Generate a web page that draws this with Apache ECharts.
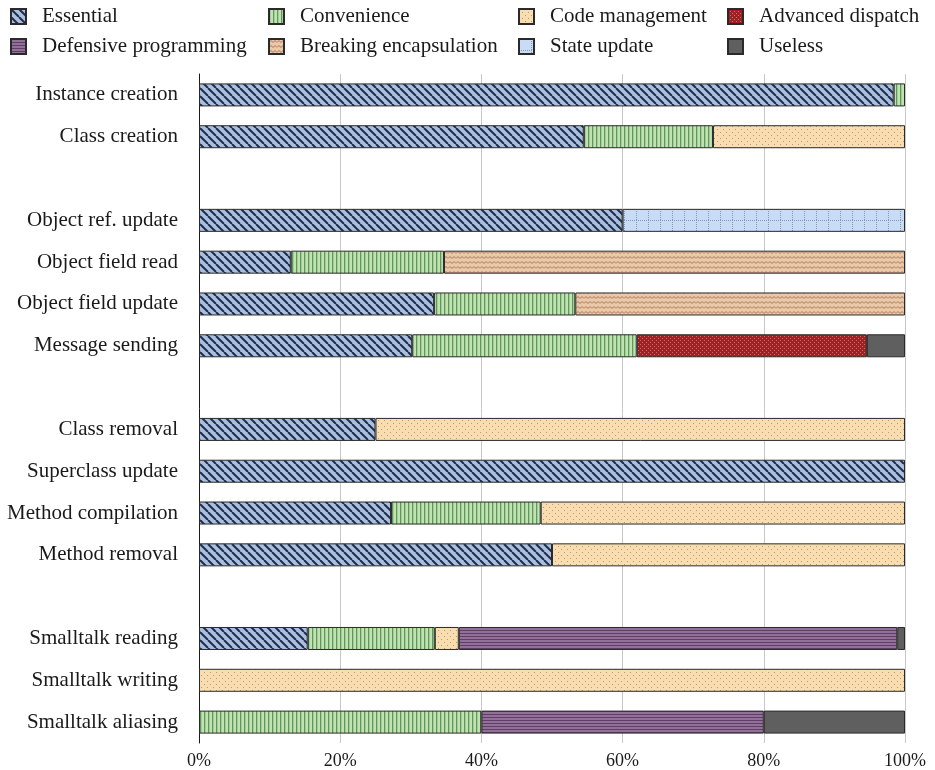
<!DOCTYPE html>
<html><head><meta charset="utf-8">
<script src="https://cdn.jsdelivr.net/npm/echarts@6/dist/echarts.min.js"></script>
<style>html,body{margin:0;padding:0;background:#fff}#c{width:935px;height:770px}</style>
</head><body><div id="c"></div>
<script>
const categories = ['Instance creation','Class creation',' ','Object ref. update','Object field read','Object field update','Message sending','  ','Class removal','Superclass update','Method compilation','Method removal','   ','Smalltalk reading','Smalltalk writing','Smalltalk aliasing'];
const essential   = [98.4, 54.5, null, 60, 13.0, 33.3, 30.2, null, 25, 100, 27.2, 50, null, 15.4, 0, 0];
const convenience = [1.6, 18.3, null, 0, 21.7, 20.0, 31.8, null, 0, 0, 21.2, 0, null, 18.0, 0, 40];
const codeMgmt    = [0, 27.2, null, 0, 0, 0, 0, null, 75, 0, 51.6, 50, null, 3.4, 100, 0];
const breaking    = [0, 0, null, 0, 65.3, 46.7, 0, null, 0, 0, 0, 0, null, 0, 0, 0];
const stateUpdate = [0, 0, null, 40, 0, 0, 0, null, 0, 0, 0, 0, null, 0, 0, 0];
const advDispatch = [0, 0, null, 0, 0, 0, 32.6, null, 0, 0, 0, 0, null, 0, 0, 0];
const defensive   = [0, 0, null, 0, 0, 0, 0, null, 0, 0, 0, 0, null, 62.1, 0, 40];
const useless     = [0, 0, null, 0, 0, 0, 5.4, null, 0, 0, 0, 0, null, 1.1, 0, 20];
const xTicks = [0, 20, 40, 60, 80, 100];

function tile(w, h, draw) {
  const c = document.createElement('canvas'); c.width = w; c.height = h;
  const g = c.getContext('2d'); draw(g, w, h);
  return { image: c, repeat: 'repeat' };
}
const pEssential = tile(8, 8, (g, w, h) => {
  g.fillStyle = '#abc0df'; g.fillRect(0, 0, w, h);
  g.strokeStyle = '#1f2d4d'; g.lineWidth = 2;
  for (const o of [-8, 0, 8]) { g.beginPath(); g.moveTo(o, 0); g.lineTo(o + 8, 8); g.stroke(); }
});
const pConv = tile(4, 4, (g, w, h) => {
  g.fillStyle = '#c2e2b4'; g.fillRect(0, 0, w, h);
  g.fillStyle = '#5d9a5a'; g.fillRect(0, 0, 1.3, h);
});
const pCode = tile(6, 6, (g, w, h) => {
  g.fillStyle = '#f8ddb0'; g.fillRect(0, 0, w, h);
  g.fillStyle = '#bf9670'; g.fillRect(0, 0, 1, 1); g.fillRect(3, 3, 1, 1);
});
const pBreak = tile(8, 5, (g, w, h) => {
  g.fillStyle = '#ebc8a8'; g.fillRect(0, 0, w, h);
  g.strokeStyle = '#a5775a'; g.lineWidth = 1;
  g.beginPath(); g.moveTo(0, 3.5); g.lineTo(2, 1.5); g.lineTo(4, 3.5); g.lineTo(6, 1.5); g.lineTo(8, 3.5); g.stroke();
});
const pState = tile(12, 11, (g, w, h) => {
  g.fillStyle = '#c8dcf7'; g.fillRect(0, 0, w, h);
  g.fillStyle = '#8797ad';
  for (let y = 0; y < h; y += 2) g.fillRect(0, y, 1, 1);
  for (let x = 0; x < w; x += 2) g.fillRect(x, 0, 1, 1);
});
const pAdv = tile(4, 4, (g, w, h) => {
  g.fillStyle = '#9c2226'; g.fillRect(0, 0, w, h);
  g.fillStyle = '#cf6a6a'; g.fillRect(0, 0, 1, 1); g.fillRect(2, 2, 1, 1);
});
const pDef = tile(3, 3, (g, w, h) => {
  g.fillStyle = '#93709a'; g.fillRect(0, 0, w, h);
  g.fillStyle = '#5e3f66'; g.fillRect(0, 0, w, 1);
});

const FONT = 'Liberation Serif';
const mk = (name, data, color) => ({
  name, type: 'bar', stack: 'all', data: data.map(v => (v === 0 ? null : v)), barWidth: 23,
  itemStyle: { color, borderColor: '#2a2a2a', borderWidth: 1 },
  emphasis: { disabled: true }
});
const series = [
  mk('Essential', essential, pEssential),
  mk('Convenience', convenience, pConv),
  mk('Code management', codeMgmt, pCode),
  mk('Breaking encapsulation', breaking, pBreak),
  mk('State update', stateUpdate, pState),
  mk('Advanced dispatch', advDispatch, pAdv),
  mk('Defensive programming', defensive, pDef),
  mk('Useless', useless, '#5f5f5f')
];
const legendPos = [
  ['Essential', 10, 6], ['Convenience', 268, 6], ['Code management', 518, 6], ['Advanced dispatch', 727, 6],
  ['Defensive programming', 10, 36], ['Breaking encapsulation', 268, 36], ['State update', 518, 36], ['Useless', 727, 36]
];
const legends = legendPos.map(([n, x, y]) => ({
  data: [n], left: x, top: y, padding: 0, itemWidth: 15, itemHeight: 15, icon: 'rect',
  selectedMode: false,
  textStyle: { fontFamily: FONT, fontSize: 21, color: '#1a1a1a', padding: [0, 0, 0, 11] }
}));

const chart = echarts.init(document.getElementById('c'));
chart.setOption({
  animation: false,
  legend: legends,
  grid: { left: 199, right: 30, top: 74, bottom: 24 },
  xAxis: {
    type: 'value', min: xTicks[0], max: xTicks[xTicks.length - 1], interval: 20,
    axisLine: { show: false }, axisTick: { show: false },
    axisLabel: { formatter: '{value}%', fontFamily: FONT, fontSize: 18, color: '#1a1a1a', margin: 9 },
    splitLine: { lineStyle: { color: '#c8c8c8', width: 1 } }
  },
  yAxis: {
    type: 'category', data: categories, inverse: true,
    axisLine: { lineStyle: { color: '#1a1a1a', width: 1 } }, axisTick: { show: false },
    axisLabel: { fontFamily: FONT, fontSize: 21, color: '#1a1a1a', margin: 21 }
  },
  series
});
</script></body></html>
